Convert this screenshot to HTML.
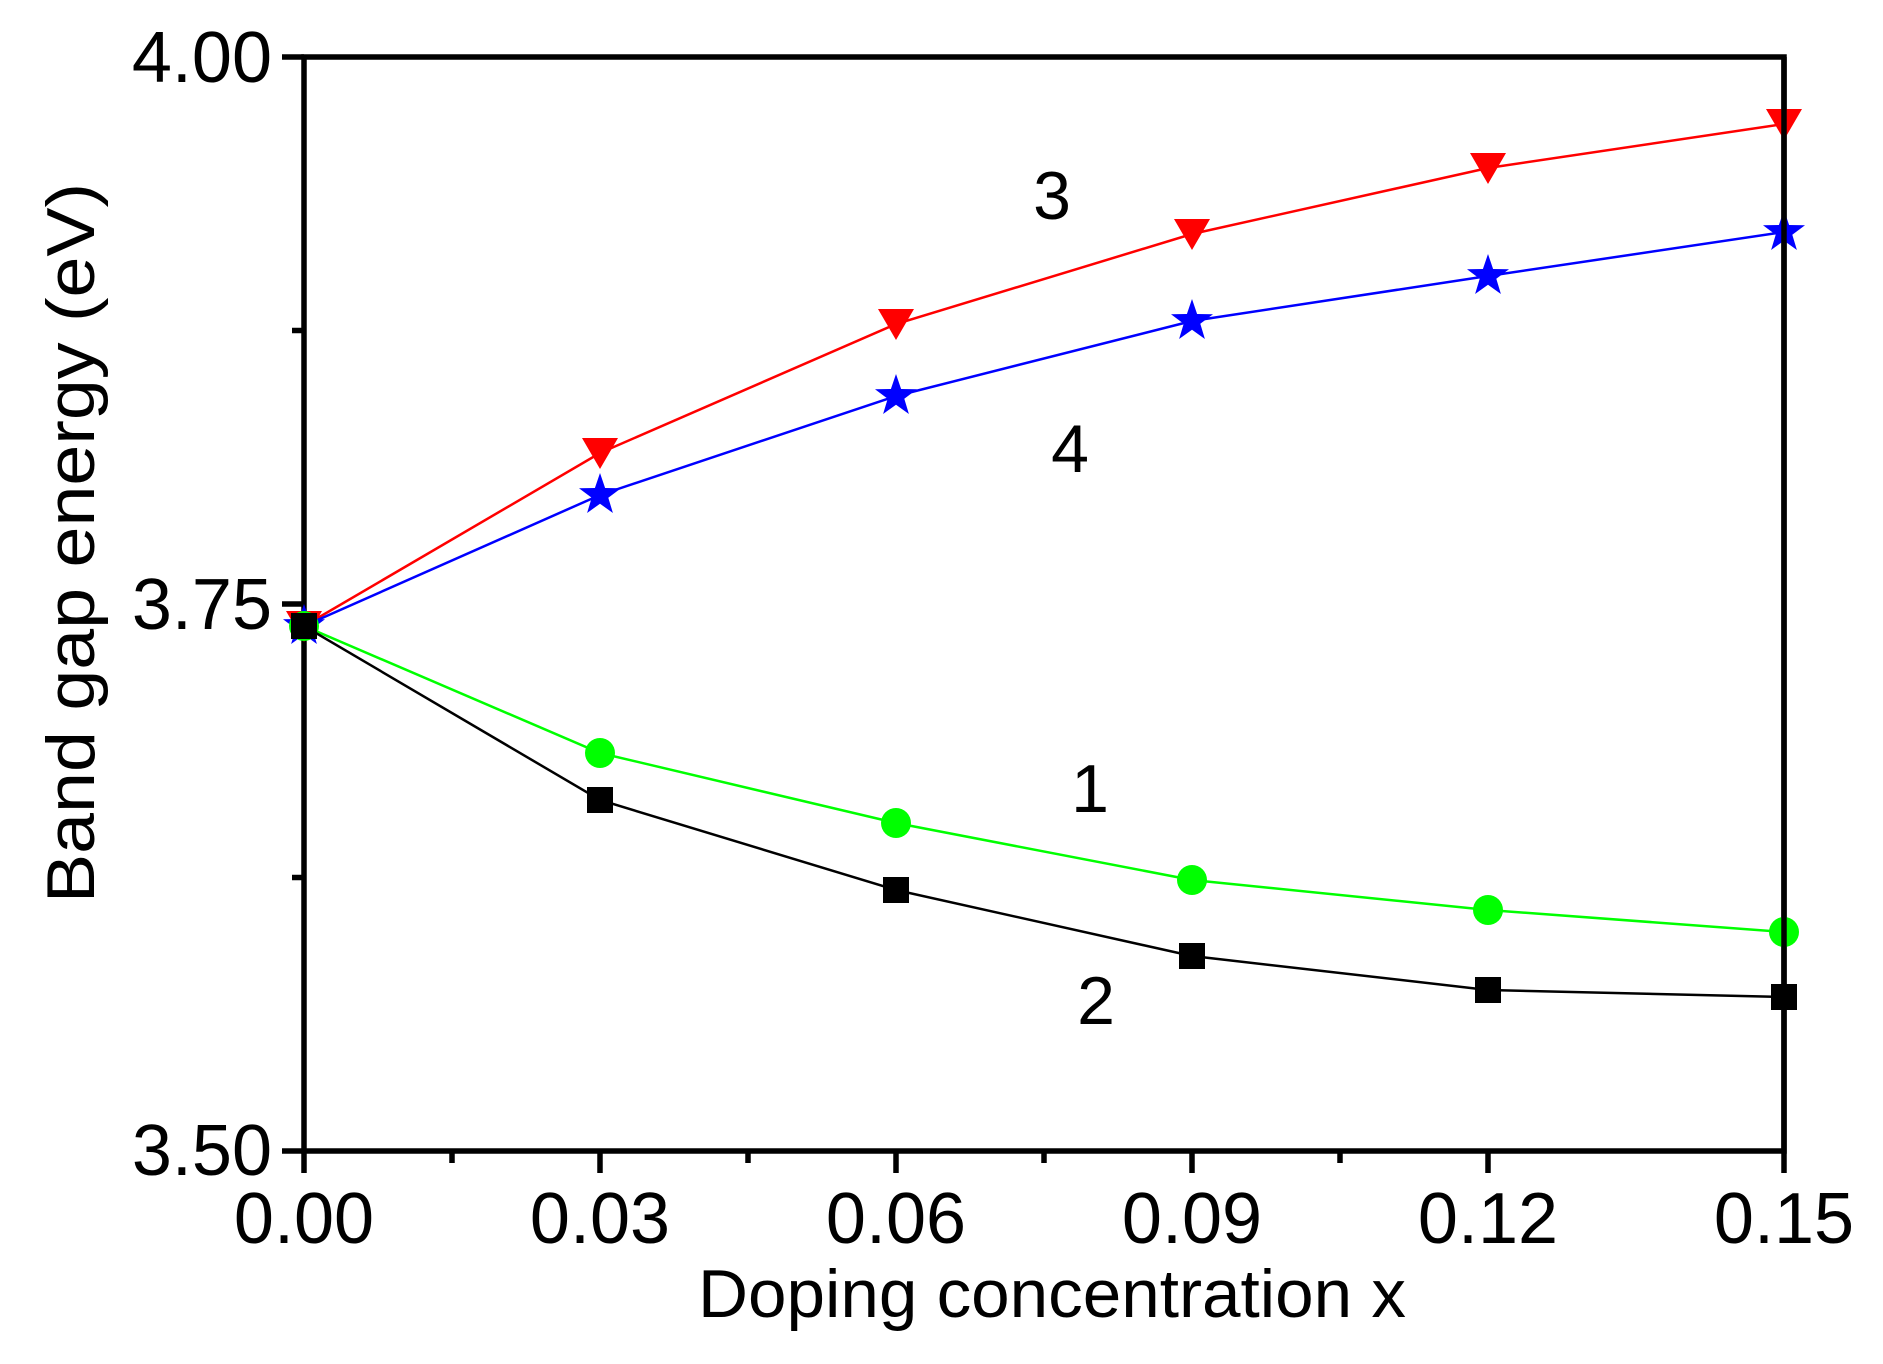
<!DOCTYPE html>
<html><head><meta charset="utf-8"><style>html,body{margin:0;padding:0;background:#fff}svg{display:block}</style></head>
<body>
<svg width="1883" height="1364" viewBox="0 0 1883 1364" xmlns="http://www.w3.org/2000/svg" font-family="Liberation Sans, Arial, sans-serif">
<rect width="1883" height="1364" fill="#fff"/>
<g stroke="#000" stroke-width="5.5" fill="none">
<rect x="304" y="57" width="1480" height="1094"/>
<line x1="282" y1="57" x2="304" y2="57"/>
<line x1="282" y1="604" x2="304" y2="604"/>
<line x1="282" y1="1151" x2="304" y2="1151"/>
<line x1="292" y1="330.5" x2="304" y2="330.5"/>
<line x1="292" y1="877.5" x2="304" y2="877.5"/>
<line x1="304" y1="1151" x2="304" y2="1173"/>
<line x1="600" y1="1151" x2="600" y2="1173"/>
<line x1="896" y1="1151" x2="896" y2="1173"/>
<line x1="1192" y1="1151" x2="1192" y2="1173"/>
<line x1="1488" y1="1151" x2="1488" y2="1173"/>
<line x1="1784" y1="1151" x2="1784" y2="1173"/>
<line x1="452" y1="1151" x2="452" y2="1163"/>
<line x1="748" y1="1151" x2="748" y2="1163"/>
<line x1="1044" y1="1151" x2="1044" y2="1163"/>
<line x1="1340" y1="1151" x2="1340" y2="1163"/>
</g>
<g font-size="72" fill="#000">
<text x="272" y="82" text-anchor="end">4.00</text>
<text x="272" y="629" text-anchor="end">3.75</text>
<text x="272" y="1175" text-anchor="end">3.50</text>
<text x="304" y="1243" text-anchor="middle">0.00</text>
<text x="600" y="1243" text-anchor="middle">0.03</text>
<text x="896" y="1243" text-anchor="middle">0.06</text>
<text x="1192" y="1243" text-anchor="middle">0.09</text>
<text x="1488" y="1243" text-anchor="middle">0.12</text>
<text x="1784" y="1243" text-anchor="middle">0.15</text>
</g>
<g font-size="68" fill="#000">
<text x="1052" y="1317" text-anchor="middle" textLength="708" lengthAdjust="spacingAndGlyphs">Doping concentration x</text>
<text transform="translate(94,543) rotate(-90)" text-anchor="middle" textLength="720" lengthAdjust="spacingAndGlyphs">Band gap energy (eV)</text>
<text x="1052" y="219" text-anchor="middle">3</text>
<text x="1070" y="472" text-anchor="middle">4</text>
<text x="1090" y="812" text-anchor="middle">1</text>
<text x="1096" y="1024" text-anchor="middle">2</text>
</g>
<defs>
<polygon id="tri" points="-18,-15 18,-15 0,16"/>
<polygon id="star" points="0,-22 5.1,-7 21,-6.8 8.3,2.7 12.9,18 0,8.7 -12.9,18 -8.3,2.7 -21,-6.8 -5.1,-7"/>
</defs>
<polyline fill="none" stroke="#f00" stroke-width="2.5" points="304,626 600,453 896,324 1192,234 1488,168 1784,124"/>
<g fill="#f00">
<use href="#tri" x="304" y="626"/><use href="#tri" x="600" y="453"/><use href="#tri" x="896" y="324"/><use href="#tri" x="1192" y="234"/><use href="#tri" x="1488" y="168"/><use href="#tri" x="1784" y="124"/>
</g>
<polyline fill="none" stroke="#00f" stroke-width="2.5" points="304,626 600,495 896,396 1192,321 1488,276 1784,232"/>
<g fill="#00f">
<use href="#star" x="304" y="626"/><use href="#star" x="600" y="495"/><use href="#star" x="896" y="396"/><use href="#star" x="1192" y="321"/><use href="#star" x="1488" y="276"/><use href="#star" x="1784" y="232"/>
</g>
<polyline fill="none" stroke="#0f0" stroke-width="2.5" points="304,626 600,753 896,823 1192,880 1488,910 1784,932"/>
<g fill="#0f0">
<circle cx="304" cy="626" r="15"/><circle cx="600" cy="753" r="15"/><circle cx="896" cy="823" r="15"/><circle cx="1192" cy="880" r="15"/><circle cx="1488" cy="910" r="15"/><circle cx="1784" cy="932" r="15"/>
</g>
<polyline fill="none" stroke="#000" stroke-width="2.5" points="304,626 600,800 896,890 1192,956 1488,990 1784,997"/>
<g fill="#000">
<rect x="291" y="613" width="26" height="26"/><rect x="587" y="787" width="26" height="26"/><rect x="883" y="877" width="26" height="26"/><rect x="1179" y="943" width="26" height="26"/><rect x="1475" y="977" width="26" height="26"/><rect x="1771" y="984" width="26" height="26"/>
</g>
<line x1="1784" y1="57" x2="1784" y2="1151" stroke="#000" stroke-width="5.5"/>
</svg>
</body></html>
